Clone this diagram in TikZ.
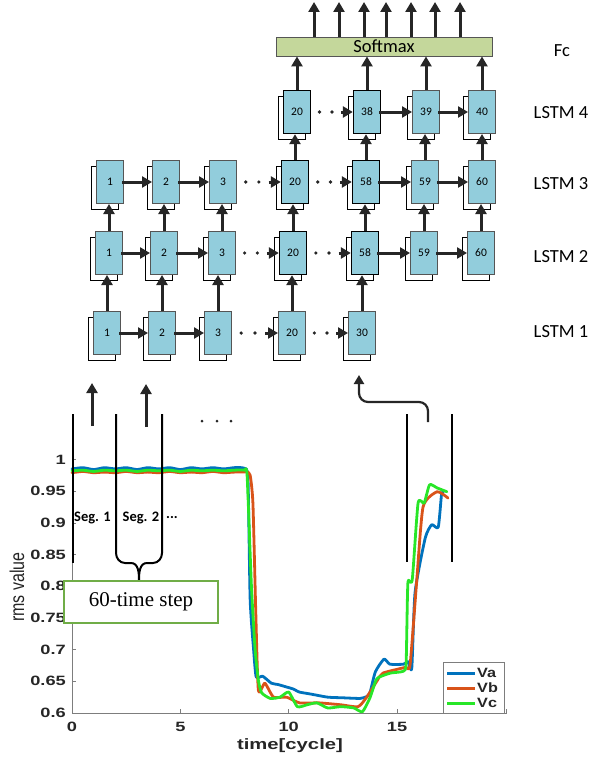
\documentclass[tikz,border=0pt]{standalone}
\usepackage{fontspec}
\setmainfont{Carlito}
\newfontfamily\arialf{Liberation Sans}
\newfontfamily\tnrf{Liberation Serif}
\usetikzlibrary{arrows.meta,calc}

\definecolor{lstmblue}{RGB}{146,205,220}
\definecolor{boxgray}{RGB}{85,85,85}
\definecolor{arrowgray}{RGB}{38,38,38}
\definecolor{softgreen}{RGB}{196,215,155}
\definecolor{vaC}{RGB}{0,114,189}
\definecolor{vbC}{RGB}{217,83,25}
\definecolor{vcC}{RGB}{40,230,40}
\definecolor{boxgreen}{RGB}{112,173,71}
\definecolor{axisgray}{RGB}{125,125,125}
\definecolor{labelgray}{RGB}{38,38,38}

\newcommand\lstmcell[5][]{%
  \node[backbox] (#2b) at (#3-5,#4+6) {};
  \node[front,#1] (#2) at (#3,#4) {#5};}
\newcommand\plotlab[1]{\scalebox{1.35}[1]{#1}}

\begin{document}
\begin{tikzpicture}[x=1pt,y=-1pt,
  front/.style={draw=boxgray, fill=lstmblue, line width=1pt, minimum width=27pt, minimum height=43pt, inner sep=0pt, font=\fontsize{11.5}{12}\selectfont},
  backbox/.style={draw=black, fill=white, line width=0.9pt, minimum width=27pt, minimum height=43pt, inner sep=0pt},
  dark/.style={draw=black, line width=1.4pt},
  arr/.style={draw=arrowgray, line width=3pt, -{Triangle[length=10pt,width=11pt]}},
  rowlab/.style={font=\fontsize{18.5}{19}\selectfont, inner sep=0pt},
  ticklab/.style={font=\arialf\bfseries\fontsize{13.5}{14}\selectfont, text=labelgray, inner sep=0pt},
  seglab/.style={font=\bfseries\fontsize{14.5}{15}\selectfont, inner sep=0pt},
  segline/.style={draw=black, line width=2pt},
  curve/.style={line width=2.8pt, line join=round, line cap=round},
]
\useasboundingbox (0,0) rectangle (591,760);

% ---------- LSTM grid ----------
% LSTM 1
\lstmcell{a1}{107}{333}{1}
\lstmcell{a2}{162}{333}{2}
\lstmcell{a3}{218}{333}{3}
\lstmcell{a4}{292}{333}{20}
\lstmcell{a5}{362}{333}{30}
% LSTM 2
\lstmcell{b1}{109}{253}{1}
\lstmcell{b2}{164}{253}{2}
\lstmcell{b3}{222}{253}{3}
\lstmcell[dark]{b4}{293}{253}{20}
\lstmcell[dark]{b5}{365}{253}{58}
\lstmcell{b6}{424}{253}{59}
\lstmcell{b7}{481}{253}{60}
% LSTM 3
\lstmcell{c1}{110}{182}{1}
\lstmcell{c2}{166}{182}{2}
\lstmcell{c3}{223}{182}{3}
\lstmcell[dark]{c4}{295}{182}{20}
\lstmcell[dark]{c5}{366}{182}{58}
\lstmcell{c6}{425}{182}{59}
\lstmcell{c7}{482}{182}{60}
% LSTM 4
\lstmcell[dark]{d4}{297}{112}{20}
\lstmcell[dark]{d5}{367}{112}{38}
\lstmcell{d6}{426}{112}{39}
\lstmcell{d7}{482}{112}{40}

% softmax
\node[draw=boxgray, fill=softgreen, line width=0.9pt, minimum width=216pt, minimum height=19pt, inner sep=0pt, font=\fontsize{18.5}{19}\selectfont] (sm) at (384,46.5) {Softmax};

% row labels
\node[rowlab] (fc) at (562,51) {Fc};
\node[rowlab] (l4) at (561,113) {LSTM 4};
\node[rowlab] (l3) at (561,183.5) {LSTM 3};
\node[rowlab] (l2) at (561,257) {LSTM 2};
\node[rowlab] (l1) at (561,332) {LSTM 1};

% horizontal solid arrows
\foreach \p/\q in {a1/a2,a2/a3,b1/b2,b2/b3,b5/b6,b6/b7,c1/c2,c2/c3,c5/c6,c6/c7,d5/d6,d6/d7}
  \draw[arr] ([xshift=-2pt]\p.east) -- (\q.west);
% dotted links
\foreach \p/\q in {a3/a4,a4/a5,b3/b4,b4/b5,c3/c4,c4/c5,d4/d5}{
  \fill[arrowgray] ($(\p.east)!0.2!(\q.west)$) circle (1.8);
  \fill[arrowgray] ($(\p.east)!0.5!(\q.west)$) circle (1.8);
  \draw[arr] ($(\p.east)!0.72!(\q.west)$) -- (\q.west);
}
% vertical arrows
\foreach \p/\q in {a1/b1,a2/b2,a3/b3,a4/b4,a5/b5,b1/c1,b2/c2,b3/c3,b4/c4,b5/c5,b6/c6,b7/c7,c4/d4,c5/d5,c6/d6,c7/d7}
  \draw[arr] (\p.north) -- (\p.north |- \q.south);
\foreach \p in {d4,d5,d6,d7}
  \draw[arr] (\p.north) -- (\p.north |- sm.south);
% outputs
\foreach \x [count=\i] in {314,339,364,386,411,435,460}{
  \coordinate (o\i) at (\x,2);
  \draw[arr] (sm.north -| o\i) -- (o\i);
}

% ---------- plot ----------
% axes
\draw[axisgray, line width=0.8pt] (72,440) -- (72,713) -- (507,713);
\foreach \v/\lab in {0.6/0.6,0.65/0.65,0.7/0.7,0.75/0.75,0.8/0.8,0.85/0.85,0.9/0.9,0.95/0.95,1/1}{
  \draw[axisgray, line width=0.6pt] (72,1093.4-634*\v) -- (76,1093.4-634*\v);
  \node[ticklab, anchor=east] at (66,1093.4-634*\v) {\plotlab{\lab}};
}
\foreach \t/\lab in {0/0,5/5,10/10,15/15}{
  \draw[axisgray, line width=0.6pt] (72+21.67*\t,713) -- (72+21.67*\t,709);
  \node[ticklab] at (72+21.67*\t,727) {\plotlab{\lab}};
}
\draw[axisgray, line width=0.6pt] (506.5,713) -- (506.5,709);
\node[font=\arialf\bfseries\fontsize{15}{16}\selectfont, text=labelgray, inner sep=0pt] (xl) at (290,746) {\scalebox{1.35}[1]{time[cycle]}};
\node[font=\arialf\fontsize{16}{17}\selectfont, text=labelgray, inner sep=0pt, rotate=90] (yl) at (17,587) {\scalebox{1}[1.25]{rms value}};

\begin{scope}[shift={(72,1093.4)}, x=21.67pt, y=634pt]
\draw[curve, vaC] plot[smooth, tension=0.35] coordinates {
(0,0.985) (0.5,0.987) (1,0.984) (1.5,0.987) (2,0.985) (2.5,0.987) (3,0.984) (3.5,0.987) (4,0.985) (4.5,0.987) (5,0.984) (5.5,0.987) (6,0.985) (6.5,0.987) (7,0.985) (7.5,0.987) (7.95,0.986)
(8.12,0.97) (8.22,0.78) (8.38,0.70) (8.5,0.657) (8.8,0.658) (9.2,0.647) (9.5,0.645) (9.9,0.641) (10.2,0.638) (10.5,0.633) (11,0.630) (11.8,0.625) (12.5,0.624) (13.3,0.623) (13.6,0.626) (13.75,0.632) (14.0,0.665) (14.4,0.685) (14.67,0.677) (15.3,0.677) (15.5,0.681) (15.68,0.671) (15.83,0.79) (16.3,0.876) (16.6,0.897) (16.9,0.893) (17.05,0.944) (17.12,0.948)};
\draw[curve, vbC] plot[smooth, tension=0.35] coordinates {
(0,0.979) (0.5,0.981) (1,0.979) (1.5,0.980) (2,0.979) (2.5,0.981) (3,0.979) (3.5,0.980) (4,0.979) (4.5,0.981) (5,0.979) (5.5,0.980) (6,0.979) (6.5,0.981) (7,0.979) (7.5,0.980) (8.05,0.980)
(8.22,0.975) (8.35,0.93) (8.48,0.76) (8.6,0.636) (8.9,0.647) (9.3,0.625) (9.9,0.625) (10.5,0.616) (11.4,0.616) (12.4,0.613) (13.2,0.610) (13.6,0.625) (14.1,0.652) (14.35,0.663) (15.37,0.672) (15.6,0.676) (15.9,0.805) (16.2,0.925) (16.85,0.949) (17.35,0.939)};
\draw[curve, vcC] plot[smooth, tension=0.35] coordinates {
(0,0.982) (0.5,0.983) (1,0.981) (1.5,0.983) (2,0.982) (2.5,0.983) (3,0.981) (3.5,0.983) (4,0.982) (4.5,0.983) (5,0.981) (5.5,0.983) (6,0.982) (6.5,0.983) (7,0.982) (7.5,0.983) (7.95,0.983)
(8.08,0.975) (8.28,0.80) (8.45,0.70) (8.6,0.652) (8.75,0.632) (9.15,0.623) (9.6,0.625) (10.0,0.633) (10.4,0.610) (10.85,0.613) (11.3,0.616) (11.8,0.608) (12.4,0.610) (13.0,0.608) (13.4,0.602) (13.75,0.624) (14.03,0.652) (14.2,0.657) (14.7,0.663) (15.3,0.666) (15.42,0.680) (15.5,0.805) (15.7,0.810) (15.97,0.931) (16.25,0.931) (16.5,0.960) (16.85,0.955) (17.3,0.949)};
\end{scope}

% legend
\node[draw=axisgray, fill=white, line width=0.8pt, minimum width=61pt, minimum height=51pt, inner sep=0pt] (leg) at (473.5,687.5) {};
\draw[vaC, line width=3pt] (447,673) -- (475,673);
\draw[vbC, line width=3pt] (447,688) -- (475,688);
\draw[vcC, line width=3pt] (447,703) -- (475,703);
\node[ticklab, anchor=west] (va) at (477,673) {\scalebox{1.2}[1]{Va}};
\node[ticklab, anchor=west] (vb) at (477,688) {\scalebox{1.2}[1]{Vb}};
\node[ticklab, anchor=west] (vc) at (477,703) {\scalebox{1.2}[1]{Vc}};

% segment lines
\draw[segline] (73,414) -- (73,563);
\draw[segline] (407,414) -- (407,562);
\draw[segline] (452,414) -- (452,562);
\draw[segline] (116,414) -- (116,553) to[out=-90,in=180] (125,563) -- (131,563) to[out=0,in=90] (139,580);
\draw[segline] (162,414) -- (162,553) to[out=-90,in=0] (153,563) -- (147,563) to[out=180,in=90] (139,580);

% segment labels
\node[seglab] (s1l) at (92.5,518) {Seg. 1};
\node[seglab] (s2l) at (141,518) {Seg. 2};
\node[seglab] (s3l) at (172,518) {...};

% time step box
\node[draw=boxgreen, line width=2pt, fill=white, minimum width=154pt, minimum height=42pt, inner sep=0pt, font=\tnrf\fontsize{21}{22}\selectfont] (ts) at (141,602) {60-time step};

% input arrows
\coordinate (i1) at (92,426); \coordinate (i1t) at (92,383);
\coordinate (i2) at (146,427); \coordinate (i2t) at (146,384);
\draw[arr] (i1) -- (i1t);
\draw[arr] (i2) -- (i2t);
\coordinate (i3) at (428,422); \coordinate (i3t) at (359,375);
\draw[draw=arrowgray, line width=2.2pt, -{Triangle[length=9pt,width=10pt]}, rounded corners=9pt] (i3) -- (i3 |- 0,402) -- (i3t |- 0,402) -- (i3t);
\fill[arrowgray] (202,421) circle (1.5);
\fill[arrowgray] (217,421) circle (1.5);
\fill[arrowgray] (231,421) circle (1.5);
\end{tikzpicture}
\end{document}
